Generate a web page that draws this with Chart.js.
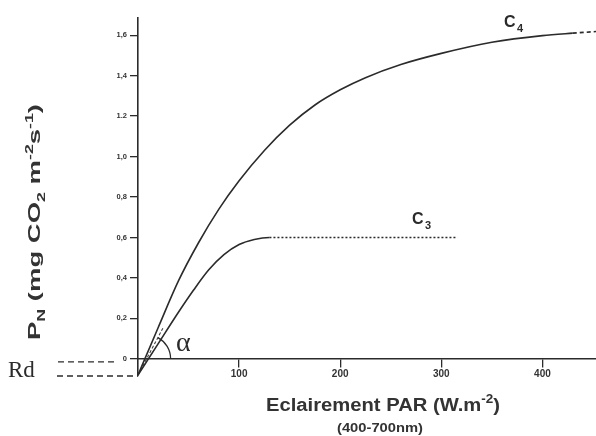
<!DOCTYPE html>
<html><head><meta charset="utf-8">
<script src="https://cdn.jsdelivr.net/npm/chart.js@4/dist/chart.umd.min.js"></script>
<style>html,body{margin:0;padding:0;background:#fff}#wrap{width:596px;height:436px}</style>
</head><body><div id="wrap"><canvas id="c"></canvas></div>
<script>
// ---- data ----
const c4PAR = [0, 20, 40, 60, 80, 100, 125, 150, 175, 200, 225, 260, 300, 350, 400, 430, 453];
const c4PN  = [-0.08, 0.155, 0.385, 0.575, 0.74, 0.88, 1.03, 1.155, 1.255, 1.33, 1.39, 1.455, 1.51, 1.565, 1.598, 1.61, 1.618];
const c3PAR = [0, 20, 40, 55, 70, 85, 100, 115, 130, 140, 200, 260, 316];
const c3PN  = [-0.08, 0.075, 0.23, 0.34, 0.44, 0.515, 0.565, 0.59, 0.6, 0.6, 0.6, 0.6, 0.6];
const tangentPAR = [0, 25];
const tangentPN  = [-0.08, 0.155];
const rd = -0.08;
const xTickValues = [100, 200, 300, 400];
const xTickLabels = ['100', '200', '300', '400'];
const yTickValues = [0, 0.2, 0.4, 0.6, 0.8, 1.0, 1.2, 1.4, 1.6];
const yTickLabels = ['0', '0,2', '0,4', '0,6', '0,8', '1,0', '1.2', '1,4', '1,6'];

const toPts = (xs, ys) => xs.map((v, i) => ({x: v, y: ys[i]}));
const INK = '#2b2b2b';
const SANS = '"Liberation Sans", Arial, sans-serif';
const SERIF = '"Liberation Serif", "Times New Roman", serif';

// draw text runs (normal / sub / sup) centred on cx, stretched horizontally to a target width
function drawRuns(ctx, runs, cx, baseline, size, subSize, target) {
  const fontOf = r => 'bold ' + (r[1] === 'n' ? size : subSize) + 'px ' + SANS;
  let w = 0;
  runs.forEach(r => { ctx.font = fontOf(r); w += ctx.measureText(r[0]).width; });
  const sx = target ? target / w : 1;
  ctx.save();
  ctx.translate(cx, baseline);
  ctx.scale(sx, 1);
  let x = -w / 2;
  runs.forEach(r => {
    ctx.font = fontOf(r);
    const dy = r[1] === 'sub' ? size * 0.3 : (r[1] === 'sup' ? -size * 0.42 : 0);
    ctx.fillText(r[0], x, dy);
    x += ctx.measureText(r[0]).width;
  });
  ctx.restore();
}

const extras = {
  id: 'extras',
  afterDraw(chart) {
    const {ctx, scales: {x, y}} = chart;
    const x0 = x.getPixelForValue(0);
    const yz = y.getPixelForValue(0);
    const yr = y.getPixelForValue(rd);
    ctx.save();
    ctx.strokeStyle = INK; ctx.fillStyle = INK; ctx.lineWidth = 1.3;
    ctx.textBaseline = 'alphabetic'; ctx.textAlign = 'left';
    ctx.setLineDash([6, 4]);
    ctx.beginPath(); ctx.moveTo(58, yz + 3); ctx.lineTo(116, yz + 3); ctx.stroke();
    ctx.beginPath(); ctx.moveTo(57, yr + 1); ctx.lineTo(x0, yr + 1); ctx.stroke();
    ctx.setLineDash([]);
    // Rd label
    ctx.font = '23px ' + SERIF;
    ctx.fillText('Rd', 8, 377);
    // alpha angle arc
    const p1x = x.getPixelForValue(tangentPAR[0]), p1y = y.getPixelForValue(tangentPN[0]);
    const p2x = x.getPixelForValue(tangentPAR[1]), p2y = y.getPixelForValue(tangentPN[1]);
    const t = (yz - p1y) / (p2y - p1y);
    const cx = p1x + t * (p2x - p1x);
    const ang = Math.atan2(p2y - p1y, p2x - p1x);
    ctx.beginPath(); ctx.arc(cx, yz, 24, ang, 0); ctx.stroke();
    ctx.font = '28px ' + SERIF;
    ctx.fillText('α', 176, 351);
    // curve labels
    ctx.font = 'bold 16px ' + SANS;
    ctx.fillText('C', 504, 27);
    ctx.font = 'bold 11px ' + SANS;
    ctx.fillText('4', 517, 32);
    ctx.font = 'bold 16px ' + SANS;
    ctx.fillText('C', 412, 224);
    ctx.font = 'bold 11px ' + SANS;
    ctx.fillText('3', 425, 229);
    // x title
    ctx.fillStyle = '#333';
    drawRuns(ctx, [['Eclairement PAR (W.m', 'n'], ['-2', 'sup'], [')', 'n']], 383, 411, 18, 12, 234);
    drawRuns(ctx, [['(400-700nm)', 'n']], 380, 432, 12, 12, 86);
    // y title
    ctx.translate(40, 222);
    ctx.rotate(-Math.PI / 2);
    drawRuns(ctx, [['P', 'n'], ['N', 'sub'], [' (mg CO', 'n'], ['2', 'sub'], [' m', 'n'], ['-2', 'sup'], ['s', 'n'], ['-1', 'sup'], [')', 'n']], 0, 0, 17, 11, 236);
    ctx.restore();
  }
};

new Chart(document.getElementById('c'), {
  type: 'line',
  data: {
    datasets: [
      {label: 'C4', data: toPts(c4PAR, c4PN), borderColor: INK, borderWidth: 1.6, pointRadius: 0,
       cubicInterpolationMode: 'monotone', clip: false,
       segment: {borderDash: c => c.p0.parsed.x >= 430 ? [4, 3] : undefined}},
      {label: 'C3', data: toPts(c3PAR, c3PN), borderColor: INK, borderWidth: 1.6, pointRadius: 0,
       cubicInterpolationMode: 'monotone', clip: false,
       segment: {borderDash: c => c.p0.parsed.x >= 128 ? [2, 2] : undefined}},
      {label: 'tangent', data: toPts(tangentPAR, tangentPN), borderColor: '#444', borderWidth: 1.1,
       borderDash: [3, 2], pointRadius: 0, clip: false}
    ]
  },
  options: {
    responsive: true, maintainAspectRatio: false, animation: false, devicePixelRatio: 1,
    layout: {padding: {left: 0, right: 0, top: 18, bottom: 60}},
    plugins: {legend: {display: false}, tooltip: {enabled: false}},
    scales: {
      x: {
        type: 'linear', position: {y: 0}, min: 0, max: 453,
        afterBuildTicks: s => { s.ticks = xTickValues.map(v => ({value: v})); },
        ticks: {callback: v => xTickLabels[xTickValues.indexOf(v)], color: '#333',
                font: {family: SANS, size: 10, weight: 'bold'}, padding: 1, maxRotation: 0, autoSkip: false},
        grid: {drawOnChartArea: false, tickLength: 8, color: INK, lineWidth: 1.3},
        border: {color: INK, width: 1.6}
      },
      y: {
        type: 'linear', position: 'left', min: -0.085, max: 1.685,
        afterBuildTicks: s => { s.ticks = yTickValues.map(v => ({value: v})); },
        afterFit: s => { s.width = 138; },
        ticks: {callback: v => yTickLabels[yTickValues.indexOf(Math.round(v * 10) / 10)], color: '#333',
                font: {family: SANS, size: 7.5, weight: 'bold'}, padding: 3, autoSkip: false},
        grid: {drawOnChartArea: false, tickLength: 8, color: INK, lineWidth: 1.3},
        border: {color: INK, width: 1.6}
      }
    }
  },
  plugins: [extras]
});
</script></body></html>
